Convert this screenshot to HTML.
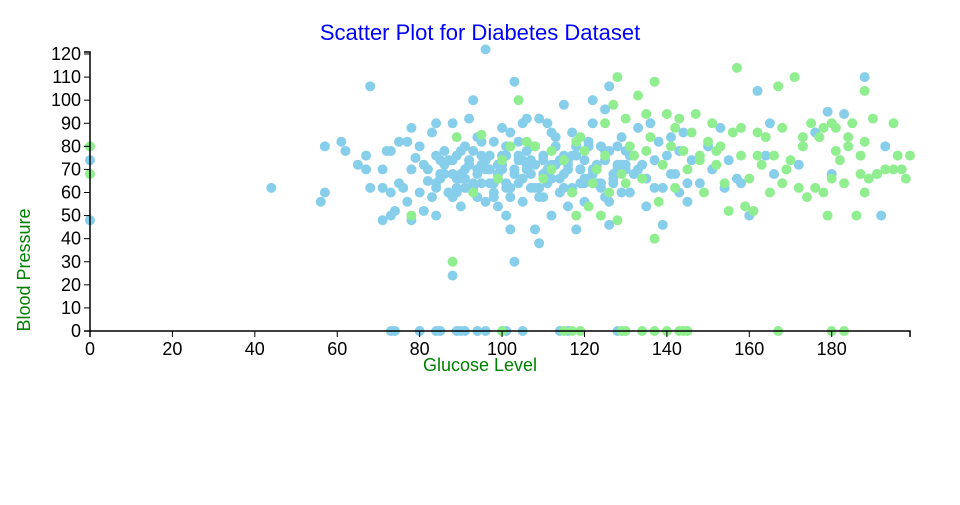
<!DOCTYPE html>
<html><head><meta charset="utf-8"><style>
body{margin:0;background:#fff;font-family:"Liberation Sans",sans-serif}
svg text{font-family:"Liberation Sans",sans-serif}
</style></head><body>
<svg id="chart" width="960" height="500" xmlns="http://www.w3.org/2000/svg">
<text x="480" y="40" text-anchor="middle" font-size="22" fill="#0000ff">Scatter Plot for Diabetes Dataset</text>
<g id="points"></g>
<g id="xaxis"></g>
<g id="yaxis"></g>
<text x="480" y="371" text-anchor="middle" font-size="18" fill="#008000">Glucose Level</text>
<text transform="translate(30,270) rotate(-90)" text-anchor="middle" font-size="18" fill="#008000">Blood Pressure</text>
</svg>
<script>
const xTicks=[0,20,40,60,80,100,120,140,160,180];
const yTicks=[0,10,20,30,40,50,60,70,80,90,100,110,120];
const blueGlucose=[0,0,44,56,57,57,61,62,65,68,67,67,68,71,71,71,72,73,73,74,73,75,75,76,77,77,78,78,78,79,80,80,81,81,82,83,83,84,84,84,85,85,86,87,88,88,88,88,89,89,90,90,90,91,91,92,92,93,93,94,94,95,95,96,96,97,97,98,98,99,99,100,100,101,101,101,102,102,103,103,103,104,104,105,105,106,106,107,107,108,108,109,109,110,110,111,111,112,112,113,114,115,115,116,116,117,117,118,118,119,120,120,121,122,122,123,124,125,125,126,126,127,128,129,130,131,132,133,134,135,136,137,138,139,140,141,142,143,144,145,146,148,150,151,153,154,155,157,158,160,162,164,165,166,172,176,179,180,183,188,191,192,193,101,100,105,94,91,90,85,84,80,74,73,89,96,114,116,128,
82,84,86,87,88,89,90,91,92,93,94,95,96,97,98,99,100,101,102,103,104,105,106,107,108,109,110,111,112,113,114,115,116,117,118,119,120,121,122,123,124,125,126,127,128,129,130,131,132,84,86,88,90,92,94,96,98,100,102,104,106,108,110,112,114,116,118,120,122,124,126,128,130,85,87,89,91,93,95,97,99,101,103,105,107,109,111,113,115,117,119,121,123,125,127,129,131,133,135,137,139,141,143,145];
const bluePressure=[74,48,62,56,60,80,82,78,72,106,76,70,62,70,62,48,78,78,50,52,60,82,64,62,56,82,48,88,70,75,60,80,72,52,65,86,58,50,76,90,66,74,68,60,58,74,24,90,66,62,78,68,54,70,80,62,92,64,100,70,58,72,82,122,56,64,76,58,82,68,54,70,88,50,62,76,86,44,30,68,108,64,76,90,56,70,92,62,74,80,44,38,92,58,74,64,90,72,50,80,66,76,98,70,54,62,86,44,80,64,74,56,66,90,100,72,80,58,96,106,46,64,80,84,70,60,76,88,72,54,90,62,82,46,76,84,68,60,86,56,74,64,80,70,88,62,74,66,64,50,104,76,90,68,72,86,95,68,94,110,68,50,80,0,0,0,0,0,0,0,0,0,0,0,0,0,0,0,0,
70,64,72,60,68,76,66,62,72,78,68,64,74,70,60,66,72,80,62,70,74,66,78,68,72,62,76,70,66,84,74,68,72,60,76,70,64,80,68,72,62,74,78,66,70,60,72,76,68,62,78,58,66,74,84,70,64,76,58,82,72,62,68,86,60,74,80,66,70,64,56,72,78,68,74,60,66,62,76,70,72,64,68,74,80,58,66,72,62,76,70,82,64,78,68,72,60,70,66,74,62,68,78,64,70,72];
const greenGlucose=[0,0,78,88,89,93,95,99,100,104,106,108,110,112,115,117,118,119,120,121,122,123,124,125,126,127,128,128,129,130,131,132,133,134,135,136,137,137,138,139,140,141,142,143,144,145,146,147,148,149,150,151,152,153,154,155,156,157,158,159,160,161,162,163,164,165,166,167,168,169,170,171,172,173,174,175,176,177,178,179,180,180,181,182,183,184,185,186,187,188,188,189,190,191,193,195,195,196,197,198,199,187,181,100,115,117,119,129,130,134,137,140,143,144,145,167,180,183,102,112,118,125,130,135,142,148,152,158,162,168,173,178,184,188];
const greenPressure=[80,68,50,30,84,60,85,66,74,100,82,80,66,70,74,60,50,84,78,54,64,70,50,90,60,98,48,110,68,92,80,76,102,66,94,84,40,108,56,72,94,80,62,92,78,70,86,94,76,60,82,90,72,80,64,52,86,114,76,54,66,52,86,72,84,60,76,106,88,70,74,110,62,84,58,90,62,84,60,50,90,66,78,74,64,84,90,50,68,60,104,66,92,68,70,70,90,76,70,66,76,76,88,0,0,0,0,0,0,0,0,0,0,0,0,0,0,0,80,78,82,76,64,78,88,74,78,88,76,64,80,88,80,82];
const x0=90,x1=910,y0=331,y1=54;
const xs=v=>x0+v*(x1-x0)/199;
const ys=v=>y0-v*(y0-y1)/120;
const NS="http://www.w3.org/2000/svg";
const pts=document.getElementById('points');
function series(gx,gy,color,name){
  for(let i=0;i<gx.length;i++){
    const c=document.createElementNS(NS,'circle');
    c.setAttribute('cx',xs(gx[i]));c.setAttribute('cy',ys(gy[i]));c.setAttribute('r',5);c.setAttribute('fill',color);
    
    
    pts.appendChild(c);
  }
}
series(blueGlucose,bluePressure,'#87ceeb','point-no-diabetes');
series(greenGlucose,greenPressure,'#90ee90','point-diabetes');
const xa=document.getElementById('xaxis'),ya=document.getElementById('yaxis');
function el(tag,attrs,parent){const e=document.createElementNS(NS,tag);for(const k in attrs)e.setAttribute(k,attrs[k]);parent.appendChild(e);return e;}
el('path',{d:`M${x0},${y0+6}V${y0}H${x1}V${y0+6}`,stroke:'#000',fill:'none','stroke-width':1.5},xa);
el('path',{d:`M${x0-6},${y1-2}H${x0}V${y0}H${x0-6}`,stroke:'#000',fill:'none','stroke-width':1.5},ya);
xTicks.forEach(t=>{
  const x=xs(t);
  el('line',{x1:x,x2:x,y1:y0,y2:y0+6,stroke:'#000'},xa);
  const tx=el('text',{x:x,y:y0+24,'text-anchor':'middle','font-size':18,fill:'#000'},xa);
  tx.textContent=t;
  
  
});
yTicks.forEach(t=>{
  const y=ys(t);
  el('line',{x1:x0-6,x2:x0,y1:y,y2:y,stroke:'#000'},ya);
  const tx=el('text',{x:x0-9,y:y+6,'text-anchor':'end','font-size':18,fill:'#000'},ya);
  tx.textContent=t;
  
  
});
</script>
</body></html>
